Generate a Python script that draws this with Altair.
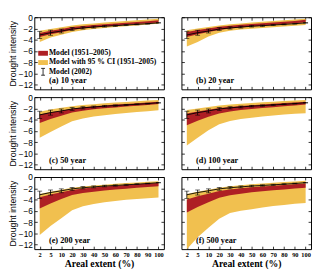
import altair as alt
import pandas as pd

# ---------------- data ----------------
extent = ["2", "5", "10", "20", "30", "40", "50", "60", "70", "80", "90", "100"]

obs_2002 = [-3.15, -2.75, -2.45, -2.1, -1.9, -1.75, -1.6, -1.5, -1.38, -1.27, -1.15, -1.0]
obs_err = [0.65, 0.45, 0.35, 0.25, 0.2, 0.17, 0.14, 0.12, 0.1, 0.08, 0.07, 0.05]

red_hi_10 = [-2.8, -2.4, -2.1, -1.75, -1.55, -1.4, -1.25, -1.1, -0.98, -0.85, -0.72, -0.55]
red_lo_10 = [-3.5, -3.0, -2.65, -2.25, -2.0, -1.82, -1.65, -1.5, -1.35, -1.22, -1.08, -0.92]
ci_hi_10 = [-2.4, -2.1, -1.8, -1.45, -1.25, -1.1, -0.95, -0.8, -0.68, -0.55, -0.4, -0.25]
ci_lo_10 = [-4.4, -3.6, -3.1, -2.6, -2.3, -2.1, -1.9, -1.75, -1.6, -1.45, -1.3, -1.15]

red_hi_20 = [-2.6, -2.25, -2.0, -1.7, -1.5, -1.35, -1.2, -1.05, -0.92, -0.8, -0.65, -0.45]
red_lo_20 = [-3.5, -3.0, -2.6, -2.25, -2.0, -1.82, -1.65, -1.5, -1.36, -1.22, -1.08, -0.9]
ci_hi_20 = [-2.3, -2.0, -1.75, -1.45, -1.25, -1.1, -0.95, -0.8, -0.67, -0.55, -0.4, -0.25]
ci_lo_20 = [-5.2, -4.4, -3.4, -2.75, -2.4, -2.2, -2.05, -1.9, -1.78, -1.65, -1.52, -1.4]

red_hi_50 = [-3.1, -2.7, -2.4, -2.05, -1.8, -1.62, -1.47, -1.33, -1.2, -1.08, -0.95, -0.8]
red_lo_50 = [-4.6, -3.9, -3.3, -2.75, -2.4, -2.17, -1.98, -1.82, -1.67, -1.52, -1.38, -1.22]
ci_hi_50 = [-2.6, -2.2, -1.9, -1.6, -1.4, -1.25, -1.1, -0.97, -0.85, -0.73, -0.6, -0.5]
ci_lo_50 = [-7.2, -6.2, -5.2, -4.3, -3.8, -3.45, -3.2, -3.0, -2.8, -2.65, -2.5, -2.35]

red_hi_100 = [-2.9, -2.55, -2.25, -1.95, -1.75, -1.58, -1.43, -1.3, -1.18, -1.06, -0.94, -0.8]
red_lo_100 = [-5.0, -4.2, -3.5, -2.9, -2.55, -2.3, -2.1, -1.93, -1.78, -1.63, -1.48, -1.32]
ci_hi_100 = [-2.3, -2.0, -1.75, -1.5, -1.32, -1.18, -1.05, -0.93, -0.82, -0.7, -0.6, -0.5]
ci_lo_100 = [-8.6, -7.2, -5.9, -4.8, -4.25, -3.9, -3.65, -3.45, -3.25, -3.1, -2.95, -2.85]

red_hi_200 = [-3.6, -3.1, -2.7, -2.3, -2.05, -1.85, -1.7, -1.55, -1.42, -1.3, -1.17, -1.05]
red_lo_200 = [-5.6, -4.7, -3.9, -3.2, -2.85, -2.6, -2.4, -2.22, -2.07, -1.92, -1.78, -1.65]
ci_hi_200 = [-3.0, -2.6, -2.25, -1.9, -1.68, -1.5, -1.35, -1.2, -1.08, -0.96, -0.85, -0.75]
ci_lo_200 = [-10.3, -8.7, -7.3, -5.9, -5.2, -4.8, -4.5, -4.25, -4.05, -3.9, -3.75, -3.65]

red_hi_500 = [-4.0, -3.4, -2.95, -2.5, -2.2, -2.0, -1.83, -1.68, -1.55, -1.42, -1.3, -1.15]
red_lo_500 = [-6.3, -5.3, -4.5, -3.7, -3.25, -2.95, -2.72, -2.52, -2.35, -2.2, -2.05, -1.9]
ci_hi_500 = [-3.0, -2.6, -2.25, -1.9, -1.65, -1.47, -1.3, -1.15, -1.02, -0.9, -0.78, -0.65]
ci_lo_500 = [-12.8, -10.7, -9.0, -7.4, -6.4, -6.0, -5.7, -5.4, -5.15, -4.95, -4.75, -4.6]

panel_titles = ["(a) 10 year", "(b) 20 year", "(c) 50 year",
                "(d) 100 year", "(e) 200 year", "(f) 500 year"]
legend_labels = ["Model (1951\u20132005)", "Model with 95 % CI (1951\u20132005)", "Model (2002)"]
y_ticks = [0, -2, -4, -6, -8, -10, -12]

# ---------------- style ----------------
W, H = 133, 74
SERIF = "Liberation Serif"
SANS = "Liberation Sans"
ORANGE = "#F1C04F"
RED = "#AE1F24"
YDOM = [-12.8, 0]


def make_panel(k, rlo, rhi, clo, chi, left, bottom, legend=False):
    df = pd.DataFrame({
        "ext": extent, "rlo": rlo, "rhi": rhi, "clo": clo, "chi": chi,
        "obs": obs_2002,
        "elo": [m - e for m, e in zip(obs_2002, obs_err)],
        "ehi": [m + e for m, e in zip(obs_2002, obs_err)],
    })
    xs = alt.Scale(type="point", domain=extent, padding=0.5)
    ys = alt.Scale(domain=YDOM, nice=False, zero=False)
    base = alt.Chart(df)
    tick_common = dict(labels=False, ticks=True, tickSize=3, tickColor="black",
                       tickWidth=0.8, domain=False, grid=False, title=None)

    if bottom:
        x_lab = alt.Axis(orient="bottom", ticks=False, domain=False, grid=False,
                         labelAngle=0, labelPadding=3, labelFont=SERIF,
                         labelFontSize=6.5, labelFontWeight="bold", labelColor="black",
                         title="Areal extent (%)", titleFont=SERIF, titleFontSize=10,
                         titleFontWeight="bold", titleColor="black", titlePadding=0)
    else:
        x_lab = None
    if left:
        y_lab = alt.Axis(orient="left", ticks=False, domain=False, grid=False,
                         values=y_ticks, labelPadding=2, labelFont=SANS,
                         labelFontSize=8.5, labelColor="black",
                         title="Drought intensity", titleFont=SANS, titleFontSize=9,
                         titleFontWeight="normal", titleColor="black", titlePadding=1)
    else:
        y_lab = None

    ci = base.mark_area(color=ORANGE).encode(
        x=alt.X("ext:O", scale=xs, axis=x_lab),
        y=alt.Y("clo:Q", scale=ys, axis=y_lab),
        y2="chi:Q",
    )
    red = base.mark_area(color=RED).encode(
        x=alt.X("ext:O", scale=xs, axis=alt.Axis(orient="top", offset=-H, **tick_common)),
        y=alt.Y("rlo:Q", scale=ys, axis=alt.Axis(orient="right", offset=-W,
                                                 values=y_ticks, **tick_common)),
        y2="rhi:Q",
    )
    line = base.mark_line(color="black", strokeWidth=0.9).encode(
        x=alt.X("ext:O", scale=xs, axis=alt.Axis(orient="bottom", offset=-H, **tick_common)),
        y=alt.Y("obs:Q", scale=ys, axis=alt.Axis(orient="left", offset=-W,
                                                 values=y_ticks, **tick_common)),
    )
    err = base.mark_rule(color="black", strokeWidth=0.8).encode(
        x=alt.X("ext:O", scale=xs, axis=None),
        y=alt.Y("elo:Q", scale=ys, axis=None),
        y2="ehi:Q",
    )
    cap_lo = base.mark_tick(color="black", size=5, thickness=0.8).encode(
        x=alt.X("ext:O", scale=xs, axis=None),
        y=alt.Y("elo:Q", scale=ys, axis=None),
    )
    cap_hi = base.mark_tick(color="black", size=5, thickness=0.8).encode(
        x=alt.X("ext:O", scale=xs, axis=None),
        y=alt.Y("ehi:Q", scale=ys, axis=None),
    )
    title = alt.Chart(pd.DataFrame({"t": [panel_titles[k]]})).mark_text(
        align="left", baseline="middle", font=SERIF, fontSize=8.5,
        fontWeight="bold", color="black",
    ).encode(x=alt.value(15), y=alt.value(H - 9), text="t:N")

    layers = [ci, red, line, err, cap_lo, cap_hi, title]

    if legend:
        leg = pd.DataFrame({"t": legend_labels})
        ys_leg = [H - 37, H - 27.5, H - 18]
        sw_red = alt.Chart(leg.iloc[[0]]).mark_rect(color=RED).encode(
            x=alt.value(4), x2=alt.value(14), y=alt.value(ys_leg[0] - 2.5), y2=alt.value(ys_leg[0] + 2.5))
        sw_or = alt.Chart(leg.iloc[[1]]).mark_rect(color=ORANGE).encode(
            x=alt.value(4), x2=alt.value(14), y=alt.value(ys_leg[1] - 2.5), y2=alt.value(ys_leg[1] + 2.5))
        bar_v = alt.Chart(leg.iloc[[2]]).mark_rule(color="black", strokeWidth=0.8).encode(
            x=alt.value(9), y=alt.value(ys_leg[2] - 3.5), y2=alt.value(ys_leg[2] + 3.5))
        bar_t = alt.Chart(leg.iloc[[2]]).mark_rule(color="black", strokeWidth=0.8).encode(
            x=alt.value(7), x2=alt.value(11), y=alt.value(ys_leg[2] - 3.5))
        bar_b = alt.Chart(leg.iloc[[2]]).mark_rule(color="black", strokeWidth=0.8).encode(
            x=alt.value(7), x2=alt.value(11), y=alt.value(ys_leg[2] + 3.5))
        txts = []
        for i in range(3):
            txts.append(alt.Chart(leg.iloc[[i]]).mark_text(
                align="left", baseline="middle", font=SERIF, fontSize=7.8,
                fontWeight="bold", color="black",
            ).encode(x=alt.value(15), y=alt.value(ys_leg[i]), text="t:N"))
        layers += [sw_red, sw_or, bar_v, bar_t, bar_b] + txts

    return alt.layer(*layers).properties(width=W, height=H).resolve_axis(
        x="independent", y="independent")


pa = make_panel(0, red_lo_10, red_hi_10, ci_lo_10, ci_hi_10, True, False, legend=True)
pb = make_panel(1, red_lo_20, red_hi_20, ci_lo_20, ci_hi_20, False, False)
pc = make_panel(2, red_lo_50, red_hi_50, ci_lo_50, ci_hi_50, True, False)
pd_ = make_panel(3, red_lo_100, red_hi_100, ci_lo_100, ci_hi_100, False, False)
pe = make_panel(4, red_lo_200, red_hi_200, ci_lo_200, ci_hi_200, True, True)
pf = make_panel(5, red_lo_500, red_hi_500, ci_lo_500, ci_hi_500, False, True)

chart = alt.concat(pa, pb, pc, pd_, pe, pf, columns=2,
                   spacing={"row": 8, "column": 18}, bounds="flush").properties(
    padding={"left": 0, "top": 1, "right": 0, "bottom": 0},
    background="white",
).configure_view(stroke="black", strokeWidth=1)

chart.save("out.html", embed_options={"renderer": "svg", "actions": False})
